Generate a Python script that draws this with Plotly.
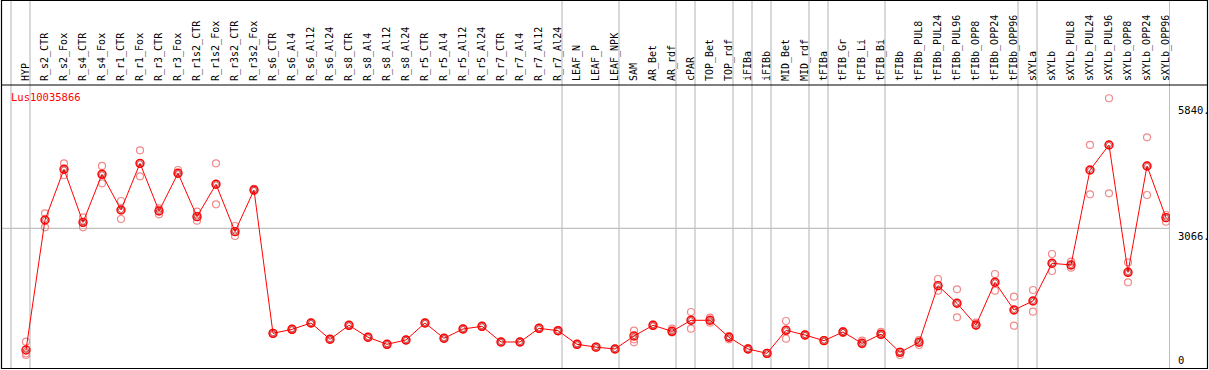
import plotly.graph_objects as go

categories = ["HYP", "R_s2_CTR", "R_s2_Fox", "R_s4_CTR", "R_s4_Fox", "R_r1_CTR", "R_r1_Fox",
              "R_r3_CTR", "R_r3_Fox", "R_r1s2_CTR", "R_r1s2_Fox", "R_r3s2_CTR", "R_r3s2_Fox",
              "R_s6_CTR", "R_s6_Al4", "R_s6_Al12", "R_s6_Al24", "R_s8_CTR", "R_s8_Al4",
              "R_s8_Al12", "R_s8_Al24", "R_r5_CTR", "R_r5_Al4", "R_r5_Al12", "R_r5_Al24",
              "R_r7_CTR", "R_r7_Al4", "R_r7_Al12", "R_r7_Al24", "LEAF_N", "LEAF_P", "LEAF_NPK",
              "SAM", "AR_Bet", "AR_rdf", "cPAR", "TOP_Bet", "TOP_rdf", "iFIBa", "iFIBb",
              "MID_Bet", "MID_rdf", "tFIBa", "tFIB_Gr", "tFIB_Li", "tFIB_Bi", "tFIBb",
              "tFIBb_PUL8", "tFIBb_PUL24", "tFIBb_PUL96", "tFIBb_OPP8", "tFIBb_OPP24",
              "tFIBb_OPP96", "sXYLa", "sXYLb", "sXYLb_PUL8", "sXYLb_PUL24", "sXYLb_PUL96",
              "sXYLb_OPP8", "sXYLb_OPP24", "sXYLb_OPP96"]

means = [395, 3248, 4361, 3197, 4251, 3468, 4492, 3446, 4273, 3322, 4032, 2992, 3907,
         761, 849, 988, 630, 937, 674, 520, 615, 988, 652, 856, 915, 571, 571, 871, 819,
         520, 458, 417, 702, 937, 805, 1047, 1047, 674, 417, 322, 827, 724, 600, 790, 542,
         742, 344, 564, 1807, 1420, 944, 1881, 1273, 1471, 2298, 2261, 4346, 4895, 2100,
         4434, 3300]

rep_high = [577, 3395, 4492, 3307, 4434, 3665, 4778, 3505, 4346, 3431, 4492, 3117, 3930,
            771, 859, 998, 640, 947, 684, 530, 625, 998, 662, 866, 925, 581, 581, 881, 829,
            530, 468, 427, 819, 950, 863, 1229, 1104, 700, 430, 335, 1032, 740, 615, 810, 600,
            795, 360, 615, 1953, 1727, 995, 2063, 1565, 1712, 2502, 2333, 4895, 5920, 2320,
            5063, 3358]

rep_low = [285, 3088, 4236, 3088, 4053, 3270, 4207, 3373, 4273, 3234, 3593, 2897, 3890,
           751, 839, 978, 620, 927, 664, 510, 605, 978, 642, 846, 905, 561, 561, 861, 809,
           510, 448, 407, 564, 925, 780, 863, 994, 630, 405, 310, 644, 710, 590, 770, 520,
           720, 285, 505, 1697, 1113, 930, 1697, 928, 1236, 2129, 2202, 3812, 3834, 1881,
           3797, 3212]

rep_mid = [322, 3248, 4361, 3197, 4251, 3468, 4492, 3446, 4273, 3322, 4032, 2992, 3907,
           761, 849, 988, 630, 937, 674, 520, 615, 988, 652, 856, 915, 571, 571, 871, 819,
           520, 458, 417, 630, 937, 805, 1047, 1047, 674, 417, 322, 827, 724, 600, 790, 542,
           742, 344, 564, 1807, 1420, 944, 1881, 1273, 1471, 2298, 2261, 4346, 4895, 2100,
           4434, 3300]

separator_after = ["HYP", "R_r7_Al24", "LEAF_NPK", "AR_rdf", "cPAR", "TOP_rdf", "iFIBa",
                   "iFIBb", "MID_rdf", "tFIBa", "tFIB_Bi", "tFIBb_OPP96", "sXYLa", "sXYLb_OPP96"]

gene_name = "Lus10035866"
ytick_vals = [0, 3066, 5840]
ytick_text = ["0", "3066.", "5840."]

# geometry
W, H = 1209, 370
ML, MR, MT, MB = 2, 39, 85, 2
plot_w = W - ML - MR
plot_h = H - MT - MB
step = 19.0
first_px = 26
x_min = -(first_px - ML) / step
x_max = x_min + plot_w / step
y_max = 6211

FONT = "DejaVu Sans Mono"
idx = list(range(len(categories)))

fig = go.Figure()

for reps in (rep_high, rep_low, rep_mid):
    fig.add_trace(go.Scatter(
        x=idx, y=reps, mode="markers",
        marker=dict(symbol="circle-open", size=7, color="#f08a8a", line=dict(width=1.2, color="#f08a8a")),
        hoverinfo="skip", showlegend=False))

fig.add_trace(go.Scatter(
    x=idx, y=means, mode="lines+markers",
    line=dict(color="#ff0000", width=1),
    marker=dict(symbol="circle-open", size=8, color="#ff0000", line=dict(width=1.4, color="#ff0000")),
    showlegend=False))
fig.add_trace(go.Scatter(
    x=idx, y=means, mode="markers",
    marker=dict(symbol="circle-open", size=5, color="#900000", line=dict(width=0.6, color="#900000")),
    hoverinfo="skip", showlegend=False))

shapes = []
def px_x(px):
    return (px - ML) / plot_w
def px_y(py):
    return (H - MB - py) / plot_h

top_paper = px_y(0)
# group separators (gray, full height)
sep_positions = [-1] + [categories.index(c) for c in separator_after]
for s in sep_positions:
    xv = min(s + 4.0 / step, x_max - 0.02)
    shapes.append(dict(type="line", xref="x", yref="paper", x0=xv, x1=xv, y0=0, y1=top_paper,
                       line=dict(color="#c0c0c0", width=1.2), layer="below"))
# horizontal grid at middle tick
shapes.append(dict(type="line", xref="paper", yref="y", x0=0, x1=1, y0=ytick_vals[1], y1=ytick_vals[1],
                   line=dict(color="#c0c0c0", width=1.2), layer="below"))
# outer frame and header line
shapes.append(dict(type="rect", xref="paper", yref="paper", x0=px_x(1.5), x1=px_x(1207.5),
                   y0=px_y(368.5), y1=px_y(0.5), line=dict(color="black", width=1.2), layer="above"))
shapes.append(dict(type="line", xref="paper", yref="paper", x0=px_x(1.5), x1=px_x(1207.5),
                   y0=px_y(85), y1=px_y(85), line=dict(color="black", width=1.2)))

annotations = [dict(text=gene_name, xref="paper", yref="paper", x=px_x(9), y=px_y(97),
                    xanchor="left", yanchor="middle", showarrow=False,
                    font=dict(family=FONT, size=10.5, color="#ff0000"))]
for v, t in zip(ytick_vals, ytick_text):
    annotations.append(dict(text=t, xref="paper", yref="y", x=1, y=v, xshift=6,
                            xanchor="left", yanchor="bottom" if v == 0 else "top",
                            showarrow=False, font=dict(family=FONT, size=10.5, color="black")))

fig.update_layout(
    width=W, height=H,
    margin=dict(l=ML, r=MR, t=MT, b=MB, pad=0, autoexpand=False),
    paper_bgcolor="white", plot_bgcolor="white",
    shapes=shapes, annotations=annotations,
    xaxis=dict(range=[x_min, x_max], side="top", tickmode="array", tickvals=idx,
               ticktext=categories, tickangle=-90, showgrid=False, zeroline=False,
               showline=False, ticks="", ticklabelstandoff=3, automargin=False,
               tickfont=dict(family=FONT, size=10, color="black")),
    yaxis=dict(range=[0, y_max], visible=False, showgrid=False, zeroline=False, automargin=False),
)

fig.write_html("out.html", config={"displayModeBar": False},
               post_script="document.body.style.margin='0';document.body.style.overflow='hidden';")
